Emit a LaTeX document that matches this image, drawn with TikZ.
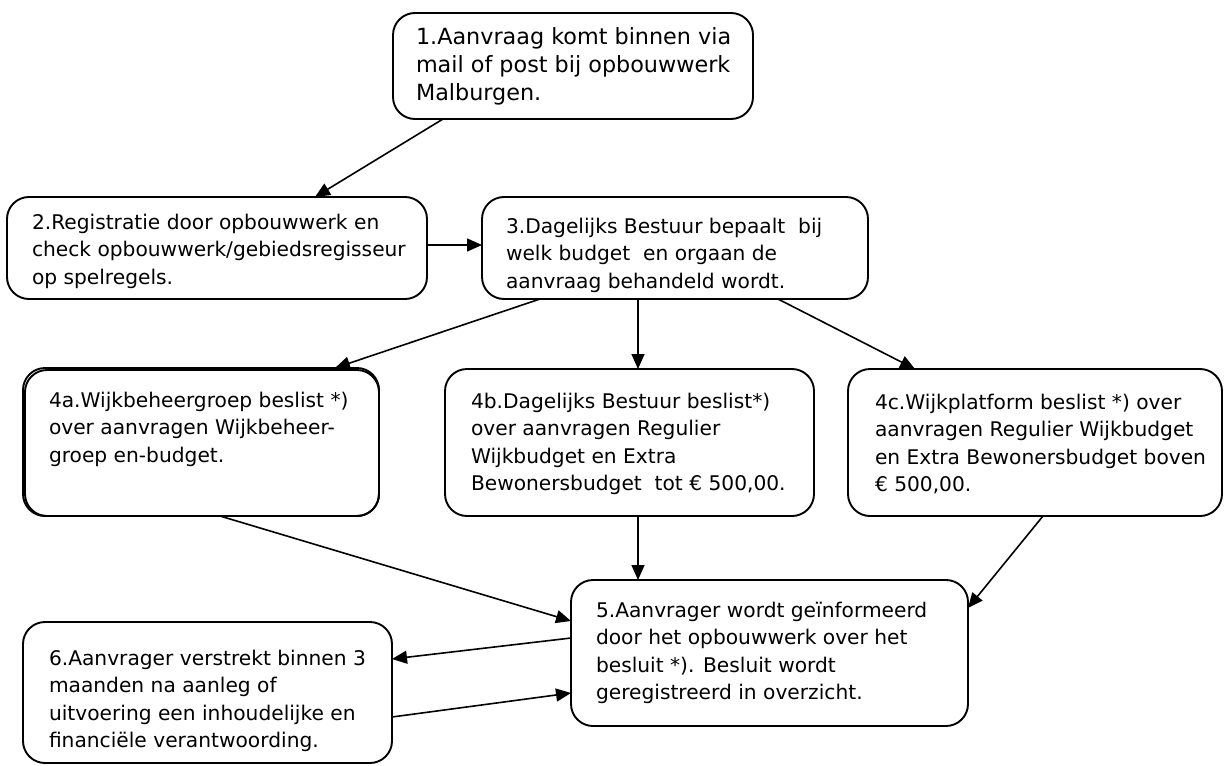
\documentclass[tikz,border=0pt]{standalone}
\usepackage{fontspec}
\setmainfont{DejaVu Sans}
\usetikzlibrary{arrows.meta,calc}
\begin{document}
\begin{tikzpicture}[x=1pt,y=-1pt,
  box/.style={draw, line width=1.9pt, rounded corners=22pt, inner sep=0pt, outer sep=0pt, anchor=north west},
  txt/.style={anchor=north west, align=left, inner sep=0pt, outer sep=0pt, font=\fontsize{20.2}{27.5}\selectfont},
  bigtxt/.style={txt, font=\fontsize{22.3}{27.8}\selectfont},
  arr/.style={line width=1.6pt, -{Triangle[length=15pt,width=13pt]}}]
\useasboundingbox (0,0) rectangle (1225,765);
\fill[white] (0,0) rectangle (1225,765);

% boxes
\node[box, minimum width=360pt, minimum height=106pt] (b1) at (393,13) {};
\node[box, minimum width=420pt, minimum height=102pt] (b2) at (7,197) {};
\node[box, minimum width=386pt, minimum height=102pt] (b3) at (482,197) {};
\node[box, minimum width=354pt, minimum height=146pt] (b4aa) at (25,370) {};
\node[box, minimum width=356pt, minimum height=148pt] (b4a) at (23,368) {};
\node[box, minimum width=369pt, minimum height=147pt] (b4b) at (445,369) {};
\node[box, minimum width=374pt, minimum height=147pt] (b4c) at (848,369) {};
\node[box, minimum width=397pt, minimum height=146pt] (b5) at (571,580) {};
\node[box, minimum width=369pt, minimum height=141pt] (b6) at (23,622) {};

% texts
\node[bigtxt] (t1) at (416,25.5) {\strut1.Aanvraag komt binnen via\\mail of post bij opbouwwerk\\Malburgen.};
\node[txt] (t2) at (32,209.75) {\strut2.Registratie door opbouwwerk en\\check opbouwwerk/gebiedsregisseur\\op spelregels.};
\node[txt] (t3) at (506,213.75) {\strut3.Dagelijks Bestuur bepaalt\ \ bij\\welk budget\ \ en orgaan de\\aanvraag behandeld wordt.};
\node[txt] (t4a) at (49,387.75) {\strut4a.Wijkbeheergroep beslist *)\\over aanvragen Wijkbeheer-\\groep en-budget.};
\node[txt] (t4b) at (471,388.75) {\strut4b.Dagelijks Bestuur beslist*)\\over aanvragen Regulier\\Wijkbudget en Extra\\Bewonersbudget\ \ tot € 500,00.};
\node[txt] (t4c) at (875,389.75) {\strut4c.Wijkplatform beslist *) over\\aanvragen Regulier Wijkbudget\\en Extra Bewonersbudget boven\\€ 500,00.};
\node[txt] (t5) at (596,597.75) {\strut5.Aanvrager wordt geïnformeerd\\door het opbouwwerk over het\\besluit *). Besluit wordt\\geregistreerd in overzicht.};
\node[txt] (t6) at (49,645.75) {\strut6.Aanvrager verstrekt binnen 3\\maanden na aanleg of\\uitvoering een inhoudelijke en\\financiële verantwoording.};

% connectors
\draw[arr] ([xshift=50pt]b1.south west) -- ([xshift=308pt]b2.north west);
\draw[arr] ([yshift=3pt]b2.east) -- ([yshift=3pt]b3.west);
\draw[arr] ([xshift=58pt]b3.south west) -- ([xshift=312pt]b4a.north west);
\draw[arr] ([xshift=156pt]b3.south west) -- ([xshift=193pt]b4b.north west);
\draw[arr] ([xshift=296pt]b3.south west) -- ([xshift=67pt]b4c.north west);
\draw[arr] ([xshift=197pt]b4a.south west) -- ([yshift=-41pt]b5.north west);
\draw[arr] ([xshift=193pt]b4b.south west) -- ([xshift=67pt]b5.north west);
\draw[arr] ([xshift=195pt]b4c.south west) -- ([yshift=-28pt]b5.north east);
\draw[arr] ([yshift=-58pt]b5.north west) -- ([yshift=-37pt]b6.north east);
\draw[arr] ([yshift=-95pt]b6.north east) -- ([yshift=-113pt]b5.north west);
\end{tikzpicture}
\end{document}
